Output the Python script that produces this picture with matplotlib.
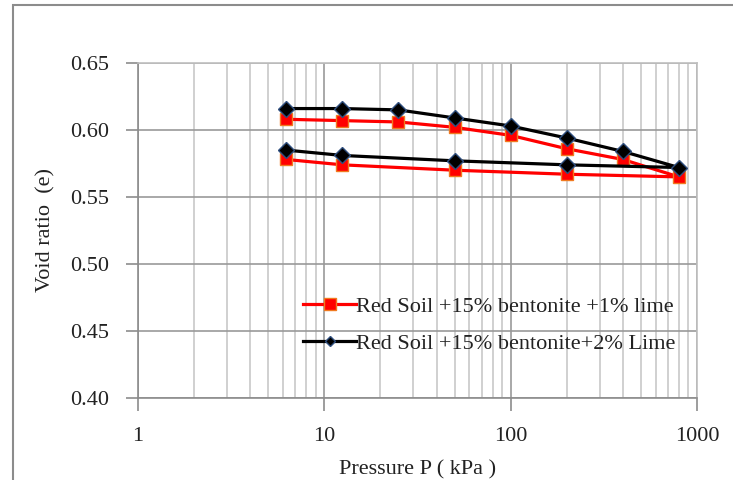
import matplotlib
matplotlib.use("Agg")
import matplotlib.pyplot as plt
from matplotlib.patches import Rectangle
from matplotlib.ticker import LogLocator, FixedLocator, NullFormatter

plt.rcParams['font.family'] = ['Liberation Serif', 'DejaVu Serif']

# Consolidation loading / unloading pressures (kPa)
pressure = [6.25, 12.5, 25, 50, 100, 200, 400, 800, 200, 50, 12.5, 6.25]

# Void ratio, red soil + 15% bentonite + 1% lime
void_1pct = [0.608, 0.607, 0.606, 0.602, 0.596, 0.586, 0.578, 0.565,
             0.567, 0.570, 0.574, 0.578]

# Void ratio, red soil + 15% bentonite + 2% lime
void_2pct = [0.616, 0.616, 0.615, 0.609, 0.603, 0.594, 0.584, 0.572,
             0.574, 0.577, 0.581, 0.585]

label_1pct = "Red Soil +15% bentonite +1% lime"
label_2pct = "Red Soil +15% bentonite+2% Lime"

y_ticks = [0.40, 0.45, 0.50, 0.55, 0.60, 0.65]
x_ticks = [1, 10, 100, 1000]
x_tick_labels = ["1", "10", "100", "1000"]

W, H = 733, 480
fig = plt.figure(figsize=(W / 100, H / 100), dpi=100)
fig.patch.set_facecolor("white")

# outer chart border
fig.patches.append(Rectangle((13 / W, -0.05), 1.2, 1 - 5 / H + 0.05,
                             transform=fig.transFigure, fill=False,
                             edgecolor="#8c8c8c", linewidth=1.5))

ax = fig.add_axes([138 / W, 1 - 398 / H, (697 - 138) / W, (398 - 63) / H])
ax.set_xscale("log")
ax.set_xlim(1, 1000)
ax.set_ylim(0.40, 0.65)

ax.plot(pressure, void_1pct, color="#ff0000", linewidth=2.3,
        marker="s", markersize=8, markerfacecolor="#ff0000",
        markeredgecolor="#f07a20", markeredgewidth=1.0,
        label=label_1pct, zorder=3)
ax.plot(pressure, void_2pct, color="#000000", linewidth=2.3,
        marker="D", markersize=8, markerfacecolor="#000000",
        markeredgecolor="#2f4f7f", markeredgewidth=1.0,
        label=label_2pct, zorder=4)

ax.set_yticks(y_ticks)
ax.set_yticklabels([f"{v:.2f}" for v in y_ticks])
ax.xaxis.set_major_locator(FixedLocator(x_ticks))
ax.set_xticklabels(x_tick_labels)
ax.xaxis.set_minor_locator(LogLocator(base=10, subs=range(2, 10)))
ax.xaxis.set_minor_formatter(NullFormatter())

ax.grid(True, which="major", color="#999999", linewidth=1.2)
ax.grid(True, which="minor", axis="x", color="#c8c8c8", linewidth=1.2)
ax.set_axisbelow(True)

for side in ("top", "right"):
    ax.spines[side].set_color("#bfbfbf")
    ax.spines[side].set_linewidth(1.2)
for side in ("left", "bottom"):
    ax.spines[side].set_color("#8c8c8c")
    ax.spines[side].set_linewidth(1.2)

ax.tick_params(axis="both", which="major", direction="out", length=9,
               width=1.2, color="#8c8c8c", labelsize=16, pad=12,
               labelcolor="#222222")
ax.tick_params(axis="x", which="minor", length=0)

ax.set_ylabel("Void ratio  (e)", fontsize=16, color="#222222", labelpad=10)
ax.set_xlabel("Pressure P ( kPa )", fontsize=16, color="#222222", labelpad=10)

leg = ax.legend(loc="upper left", bbox_to_anchor=(292 / W, 1 - 285 / H),
                bbox_transform=fig.transFigure, frameon=False,
                fontsize=16, handlelength=2.4, handletextpad=0.0,
                labelspacing=0.75, borderpad=0, labelcolor="#222222")
leg.legend_handles[1].set_markersize(5)

fig.savefig("out.png", dpi=100, facecolor="white")
